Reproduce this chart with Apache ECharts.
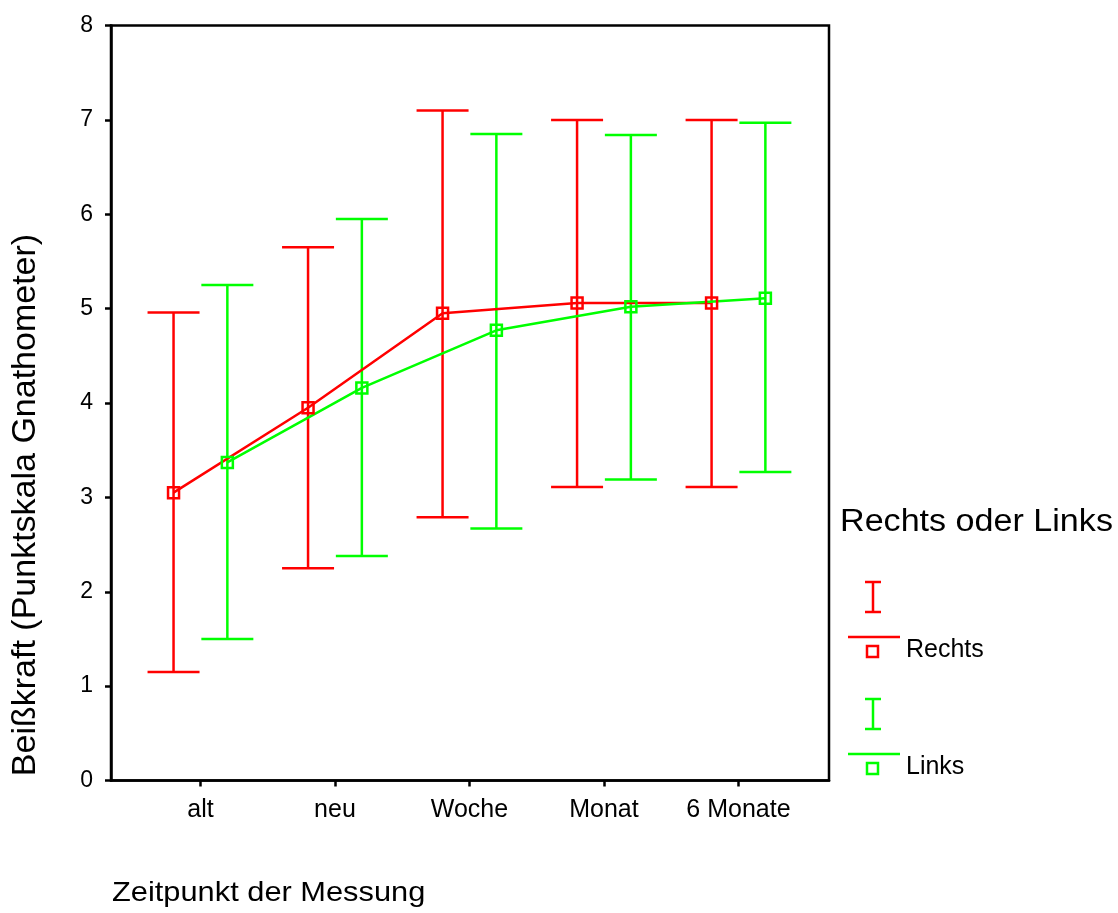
<!DOCTYPE html>
<html>
<head>
<meta charset="utf-8">
<script src="https://cdn.jsdelivr.net/npm/echarts@6/dist/echarts.min.js"></script>
<style>
html,body{margin:0;padding:0;background:#fff;}
#chart{width:1118px;height:913px;}
</style>
</head>
<body>
<div id="chart"></div>
<script>
const categories = ['alt', 'neu', 'Woche', 'Monat', '6 Monate'];
const rechtsMean  = [3.05, 3.95, 4.95, 5.06, 5.06];
const rechtsUpper = [4.96, 5.65, 7.10, 7.00, 7.00];
const rechtsLower = [1.15, 2.25, 2.79, 3.11, 3.11];
const linksMean   = [3.37, 4.16, 4.77, 5.02, 5.11];
const linksUpper  = [5.25, 5.95, 6.85, 6.84, 6.97];
const linksLower  = [1.50, 2.38, 2.67, 3.19, 3.27];
const yMin = 0, yMax = 8, yStep = 1;

const FONT = '"Liberation Sans", Arial, sans-serif';
const RED = '#ff0000', GREEN = '#00ff00';
const OFFSET = 0.2;
const LW = 2.5;

function errData(lo, hi, off) {
  return categories.map((c, i) => [i + off, lo[i], hi[i]]);
}
function lineData(m, off) {
  return categories.map((c, i) => [i + off, m[i]]);
}
function errRender(color) {
  return function (params, api) {
    const x = api.value(0);
    const top = api.coord([x, api.value(2)]);
    const bot = api.coord([x, api.value(1)]);
    const hw = 26;
    const st = { stroke: color, lineWidth: LW };
    return {
      type: 'group',
      children: [
        { type: 'line', shape: { x1: top[0], y1: top[1], x2: bot[0], y2: bot[1] }, style: st },
        { type: 'line', shape: { x1: top[0] - hw, y1: top[1], x2: top[0] + hw, y2: top[1] }, style: st },
        { type: 'line', shape: { x1: bot[0] - hw, y1: bot[1], x2: bot[0] + hw, y2: bot[1] }, style: st }
      ]
    };
  };
}

const chart = echarts.init(document.getElementById('chart'), null, { renderer: 'canvas' });

function legendItem(color, y0, label) {
  const st = { stroke: color, lineWidth: LW };
  return [
    { type: 'line', shape: { x1: 873, y1: y0, x2: 873, y2: y0 + 30 }, style: st },
    { type: 'line', shape: { x1: 865, y1: y0, x2: 881, y2: y0 }, style: st },
    { type: 'line', shape: { x1: 865, y1: y0 + 30, x2: 881, y2: y0 + 30 }, style: st },
    { type: 'line', shape: { x1: 848, y1: y0 + 55, x2: 900, y2: y0 + 55 }, style: st },
    { type: 'rect', shape: { x: 867, y: y0 + 64, width: 11, height: 11 }, style: { stroke: color, fill: 'none', lineWidth: LW } },
    { type: 'text', left: 906, top: y0 + 56, style: { text: label, font: '25px ' + FONT, fill: '#000' } }
  ];
}

const option = {
  animation: false,
  backgroundColor: '#fff',
  grid: {
    left: 111, right: 289, top: 25.5, bottom: 132.5,
    show: true, borderColor: '#000', borderWidth: 2.5, backgroundColor: 'transparent'
  },
  xAxis: {
    type: 'value',
    min: -0.665, max: 4.673,
    splitLine: { show: false },
    axisLine: { show: true, onZero: false, lineStyle: { color: '#000', width: 2.5 } },
    axisTick: { show: true, customValues: [0, 1, 2, 3, 4], length: 6, lineStyle: { color: '#000', width: 2.5 } },
    axisLabel: {
      customValues: [0, 1, 2, 3, 4],
      formatter: v => categories[Math.round(v)],
      color: '#000', fontSize: 25, fontFamily: FONT, margin: 17
    }
  },
  yAxis: {
    type: 'value',
    min: yMin, max: yMax, interval: yStep,
    splitLine: { show: false },
    axisLine: { show: true, onZero: false, lineStyle: { color: '#000', width: 2.5 } },
    axisTick: { show: true, length: 6, lineStyle: { color: '#000', width: 2.5 } },
    axisLabel: { color: '#000', fontSize: 23, fontFamily: FONT, margin: 18 }
  },
  graphic: [
    { type: 'text', x: 26, y: 505, rotation: Math.PI / 2, style: { text: 'Beißkraft (Punktskala Gnathometer)', font: '34px ' + FONT, fill: '#000', align: 'center', verticalAlign: 'middle' } },
    { type: 'text', x: 112, y: 879, scaleX: 1.1, style: { text: 'Zeitpunkt der Messung', font: '28px ' + FONT, fill: '#000' } },
    { type: 'text', x: 840, y: 507, scaleX: 1.1, style: { text: 'Rechts oder Links', font: '31px ' + FONT, fill: '#000' } },
    ...legendItem(RED, 582, 'Rechts'),
    ...legendItem(GREEN, 699, 'Links')
  ],
  series: [
    { type: 'custom', name: 'Rechts CI', data: errData(rechtsLower, rechtsUpper, -OFFSET), renderItem: errRender(RED), z: 2, silent: true },
    { type: 'custom', name: 'Links CI', data: errData(linksLower, linksUpper, OFFSET), renderItem: errRender(GREEN), z: 2, silent: true },
    {
      type: 'line', name: 'Rechts', data: lineData(rechtsMean, -OFFSET), z: 3,
      symbol: 'rect', symbolSize: 11,
      lineStyle: { color: RED, width: LW },
      itemStyle: { color: 'rgba(0,0,0,0)', borderColor: RED, borderWidth: LW }
    },
    {
      type: 'line', name: 'Links', data: lineData(linksMean, OFFSET), z: 3,
      symbol: 'rect', symbolSize: 11,
      lineStyle: { color: GREEN, width: LW },
      itemStyle: { color: 'rgba(0,0,0,0)', borderColor: GREEN, borderWidth: LW }
    }
  ]
};
chart.setOption(option);
</script>
</body>
</html>
